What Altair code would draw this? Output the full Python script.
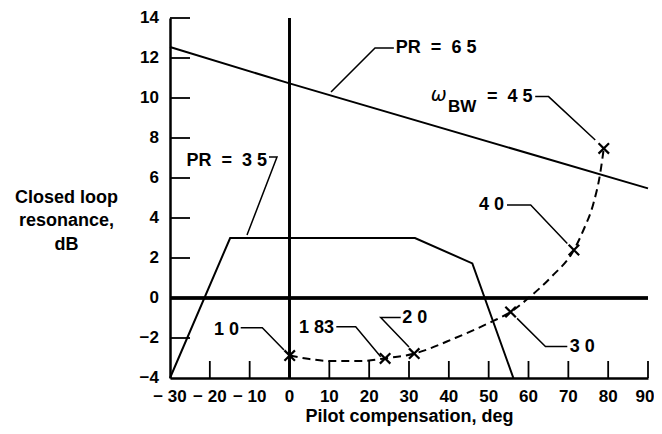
import altair as alt
import pandas as pd

NB = "\u00a0"
MINUS = "\u2212"

# ---- data ----
pr65_x = [-30, 0, 90]
pr65_y = [12.55, 10.73, 5.48]

pr35_x = [-30, -14.9, 31.5, 45.9, 56.2]
pr35_y = [-4.0, 3.0, 3.0, 1.73, -4.0]

bw_curve_x = [0.05, 5, 10, 18, 24.0, 31.3, 41.6, 50.8, 55.5, 60.3, 65.8, 71.4, 73.8, 76.3, 78.0, 78.9]
bw_curve_y = [-2.88, -3.05, -3.15, -3.15, -3.02, -2.78, -2.0, -1.18, -0.7, 0.05, 1.07, 2.4, 3.4, 4.73, 6.23, 7.48]

bw_mark_x = [0.05, 24.0, 31.3, 55.5, 71.4, 78.9]
bw_mark_y = [-2.88, -3.02, -2.78, -0.7, 2.4, 7.48]

x_ticks = [-30, -20, -10, 0, 10, 20, 30, 40, 50, 60, 70, 80, 90]
x_tick_labels = [MINUS + NB + "30", MINUS + NB + "20", MINUS + NB + "10", "0", "10", "20",
                 "30", "40", "50", "60", "70", "80", "90"]
y_ticks = [-4, -2, 0, 2, 4, 6, 8, 10, 12, 14]
y_tick_labels = [MINUS + "4", MINUS + "2", "0", "2", "4", "6", "8", "10", "12", "14"]

# leader lines (annotation call-outs), in data units
leaders = {
    "PR65": ([26.2, 21.47, 10.42], [12.5, 12.5, 10.3]),
    "PR35": ([-5.15, -3.14, -10.67], [7.05, 7.05, 3.15]),
    "BW45": ([61.68, 65.04, 76.76], [10.07, 10.07, 7.9]),
    "BW40": ([54.6, 60.55, 69.74], [4.65, 4.65, 2.73]),
    "BW30": ([57.13, 64.26, 69.74], [-1.02, -2.43, -2.43]),
    "BW20": ([27.92, 22.9, 30.0], [-0.97, -0.97, -2.45]),
    "BW183": ([11.75, 16.62, 22.9], [-1.44, -1.44, -2.94]),
    "BW10": ([-12.25, -6.83, -1.38], [-1.49, -1.49, -2.6]),
}

label_text = ["PR" + NB * 2 + "=" + NB * 2 + "6" + NB + "5",
              "PR" + NB * 2 + "=" + NB * 2 + "3" + NB + "5",
              "4" + NB + "0", "3" + NB + "0", "2" + NB + "0", "1" + NB + "83", "1" + NB + "0"]
label_x = [26.7, -5.65, 47.57, 70.34, 28.32, 2.39, -18.95]
label_y = [12.5, 6.85, 4.65, -2.47, -1.02, -1.52, -1.6]
label_align = ["left", "right", "left", "left", "left", "left", "left"]

omega_text = ["ω"]
omega_x = [35.43]
omega_y = [10.15]
sub_text = ["BW"]
sub_x = [39.77]
sub_y = [9.57]
eq_text = ["=" + NB * 2 + "4" + NB + "5"]
eq_x = [49.58]
eq_y = [10.05]

FONT = "Liberation Sans"

xscale = alt.Scale(domain=[-30, 90], nice=False, zero=False)
yscale = alt.Scale(domain=[-4, 14], nice=False, zero=False)

x_axis = alt.Axis(
    values=x_ticks, ticks=False, labels=False, grid=False, domainColor="black", domainWidth=2.5,
    title="Pilot compensation, deg", titleFont=FONT, titleFontSize=18,
    titleFontWeight="bold", titleColor="black", titleY=38, titleBaseline="middle",
)
y_axis = alt.Axis(
    values=y_ticks, ticks=False, labels=False, grid=False, domainColor="black", domainWidth=2.5,
    title=["Closed loop", "resonance,", "dB"], titleFont=FONT, titleFontSize=18,
    titleFontWeight="bold", titleColor="black", titleAngle=0, titleAlign="center",
    titleBaseline="middle", titleX=-104, titleY=179, titleLineHeight=23.5,
)

X = lambda f: alt.X(f, type="quantitative", scale=xscale, axis=x_axis)
Y = lambda f: alt.Y(f, type="quantitative", scale=yscale, axis=y_axis)

df65 = pd.DataFrame({"x": pr65_x, "y": pr65_y})
df35 = pd.DataFrame({"x": pr35_x, "y": pr35_y})
dfc = pd.DataFrame({"x": bw_curve_x, "y": bw_curve_y})
dfm = pd.DataFrame({"x": bw_mark_x, "y": bw_mark_y})

rows = []
for k, (xs, ys) in leaders.items():
    for i, (a, b) in enumerate(zip(xs, ys)):
        rows.append({"g": k, "i": i, "x": a, "y": b})
dfl = pd.DataFrame(rows)

dft = pd.DataFrame({"x": label_x, "y": label_y, "t": label_text, "a": label_align})
dfxt = pd.DataFrame({"v": x_ticks, "t": x_tick_labels, "y0": [-4] * len(x_ticks)})
dfyt = pd.DataFrame({"v": y_ticks, "t": y_tick_labels, "x0": [-30] * len(y_ticks)})

l65 = alt.Chart(df65).mark_line(color="black", strokeWidth=2).encode(x=X("x"), y=Y("y"))
l35 = alt.Chart(df35).mark_line(color="black", strokeWidth=2).encode(x=X("x"), y=Y("y"))
lbw = alt.Chart(dfc).mark_line(color="black", strokeWidth=2, strokeDash=[8, 5],
                               interpolate="monotone").encode(x=X("x"), y=Y("y"))
marks = alt.Chart(dfm).mark_point(shape="M-1,-1L1,1M1,-1L-1,1", size=110, filled=False,
                                  color="black", strokeWidth=2.2, opacity=1).encode(
    x=X("x"), y=Y("y"))

lead = alt.Chart(dfl).mark_line(color="black", strokeWidth=1.5).encode(
    x=X("x"), y=Y("y"), detail="g:N", order="i:Q")

vline = alt.Chart(df65).mark_rule(color="black", strokeWidth=2.5).encode(x=alt.datum(0, scale=xscale))
hline = alt.Chart(df65).mark_rule(color="black", strokeWidth=3).encode(y=alt.datum(0, scale=yscale))

xt = alt.Chart(pd.DataFrame({"v": x_ticks[1:]})).mark_rule(color="black", strokeWidth=1.8).encode(
    x=X("v"), y=alt.value(360), y2=alt.value(343))
yt = alt.Chart(pd.DataFrame({"v": y_ticks[1:]})).mark_rule(color="black", strokeWidth=1.8).encode(
    y=Y("v"), x=alt.value(0), x2=alt.value(20))

# tick labels
xlab = alt.Chart(dfxt[dfxt.v < 90]).mark_text(
    font=FONT, fontSize=17, fontWeight="bold", align="center", baseline="middle", color="black", dy=19
).encode(x=X("v"), y=Y("y0"), text="t:N")
xlab_end = alt.Chart(dfxt[dfxt.v == 90]).mark_text(
    font=FONT, fontSize=17, fontWeight="bold", align="center", baseline="middle", color="black", dy=19, dx=-3
).encode(x=X("v"), y=Y("y0"), text="t:N")
ylab = alt.Chart(dfyt).mark_text(
    font=FONT, fontSize=17, fontWeight="bold", align="right", baseline="middle", color="black", dx=-11
).encode(x=X("x0"), y=Y("v"), text="t:N")

txt_l = alt.Chart(dft[dft.a == "left"]).mark_text(
    font=FONT, fontSize=18, fontWeight="bold", align="left", baseline="middle", color="black"
).encode(x=X("x"), y=Y("y"), text="t:N")
txt_r = alt.Chart(dft[dft.a == "right"]).mark_text(
    font=FONT, fontSize=18, fontWeight="bold", align="right", baseline="middle", color="black"
).encode(x=X("x"), y=Y("y"), text="t:N")

om = alt.Chart(pd.DataFrame({"x": omega_x, "y": omega_y, "t": omega_text})).mark_text(
    font="DejaVu Sans", fontSize=19, fontStyle="italic", align="left", baseline="middle", color="black"
).encode(x=X("x"), y=Y("y"), text="t:N")
sub = alt.Chart(pd.DataFrame({"x": sub_x, "y": sub_y, "t": sub_text})).mark_text(
    font=FONT, fontSize=17, fontWeight="bold", align="left", baseline="middle", color="black"
).encode(x=X("x"), y=Y("y"), text="t:N")
eq = alt.Chart(pd.DataFrame({"x": eq_x, "y": eq_y, "t": eq_text})).mark_text(
    font=FONT, fontSize=18, fontWeight="bold", align="left", baseline="middle", color="black"
).encode(x=X("x"), y=Y("y"), text="t:N")

chart = alt.layer(
    vline, hline, xt, yt, l65, l35, lbw, lead, marks, xlab, xlab_end, ylab,
    txt_l, txt_r, om, sub, eq
).properties(
    width=478, height=360,
    autosize=alt.AutoSizeParams(type="none"),
    padding={"left": 162, "top": 10, "right": 6, "bottom": 48},
    background="white",
).configure_view(stroke=None, clip=False)

chart.save("out.html", embed_options={"renderer": "svg", "actions": False})
